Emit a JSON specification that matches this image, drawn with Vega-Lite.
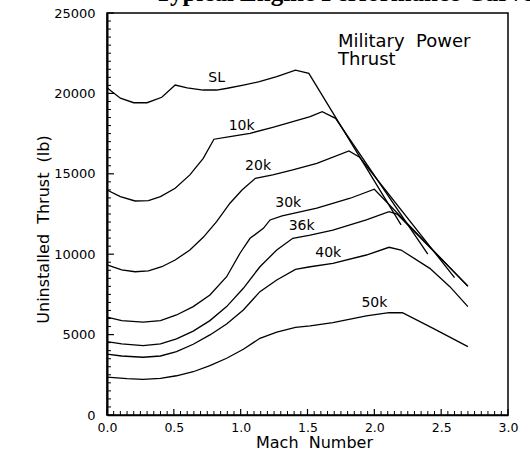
{
  "$schema": "https://vega.github.io/schema/vega-lite/v6.json",
  "width": 401,
  "height": 402,
  "autosize": "none",
  "padding": {"left": 107, "top": 13, "right": 22, "bottom": 50},
  "background": "white",
  "config": {
    "view": {"stroke": "black", "strokeWidth": 1.5},
    "font": "DejaVu Sans",
    "axis": {"grid": false, "domainColor": "black", "labelColor": "black", "titleColor": "black", "labelFont": "DejaVu Sans", "titleFont": "DejaVu Sans", "titleFontWeight": "normal"}
  },
  "datasets": {
    "curves": [
      {"alt": "SL", "mach": 0.0, "thrust": 20350}, {"alt": "SL", "mach": 0.1, "thrust": 19700}, {"alt": "SL", "mach": 0.2, "thrust": 19420}, {"alt": "SL", "mach": 0.3, "thrust": 19420}, {"alt": "SL", "mach": 0.41, "thrust": 19760}, {"alt": "SL", "mach": 0.51, "thrust": 20520}, {"alt": "SL", "mach": 0.6, "thrust": 20350}, {"alt": "SL", "mach": 0.72, "thrust": 20210}, {"alt": "SL", "mach": 0.82, "thrust": 20210}, {"alt": "SL", "mach": 0.9, "thrust": 20320}, {"alt": "SL", "mach": 1.02, "thrust": 20520}, {"alt": "SL", "mach": 1.14, "thrust": 20730}, {"alt": "SL", "mach": 1.27, "thrust": 21040}, {"alt": "SL", "mach": 1.41, "thrust": 21450}, {"alt": "SL", "mach": 1.51, "thrust": 21250}, {"alt": "SL", "mach": 2.2, "thrust": 11820},
      {"alt": "10k", "mach": 0.0, "thrust": 13990}, {"alt": "10k", "mach": 0.1, "thrust": 13580}, {"alt": "10k", "mach": 0.21, "thrust": 13310}, {"alt": "10k", "mach": 0.31, "thrust": 13330}, {"alt": "10k", "mach": 0.4, "thrust": 13580}, {"alt": "10k", "mach": 0.51, "thrust": 14100}, {"alt": "10k", "mach": 0.62, "thrust": 14930}, {"alt": "10k", "mach": 0.72, "thrust": 15960}, {"alt": "10k", "mach": 0.8, "thrust": 17150}, {"alt": "10k", "mach": 0.92, "thrust": 17310}, {"alt": "10k", "mach": 1.07, "thrust": 17520}, {"alt": "10k", "mach": 1.24, "thrust": 17890}, {"alt": "10k", "mach": 1.39, "thrust": 18240}, {"alt": "10k", "mach": 1.52, "thrust": 18550}, {"alt": "10k", "mach": 1.61, "thrust": 18860}, {"alt": "10k", "mach": 1.71, "thrust": 18450}, {"alt": "10k", "mach": 2.4, "thrust": 10010},
      {"alt": "20k", "mach": 0.0, "thrust": 9330}, {"alt": "20k", "mach": 0.11, "thrust": 9020}, {"alt": "20k", "mach": 0.21, "thrust": 8910}, {"alt": "20k", "mach": 0.31, "thrust": 8960}, {"alt": "20k", "mach": 0.41, "thrust": 9220}, {"alt": "20k", "mach": 0.51, "thrust": 9640}, {"alt": "20k", "mach": 0.62, "thrust": 10260}, {"alt": "20k", "mach": 0.72, "thrust": 11050}, {"alt": "20k", "mach": 0.82, "thrust": 12020}, {"alt": "20k", "mach": 0.92, "thrust": 13170}, {"alt": "20k", "mach": 1.01, "thrust": 13990}, {"alt": "20k", "mach": 1.11, "thrust": 14720}, {"alt": "20k", "mach": 1.24, "thrust": 14930}, {"alt": "20k", "mach": 1.39, "thrust": 15240}, {"alt": "20k", "mach": 1.57, "thrust": 15650}, {"alt": "20k", "mach": 1.81, "thrust": 16420}, {"alt": "20k", "mach": 1.89, "thrust": 16030}, {"alt": "20k", "mach": 2.6, "thrust": 8540},
      {"alt": "30k", "mach": 0.0, "thrust": 6080}, {"alt": "30k", "mach": 0.11, "thrust": 5870}, {"alt": "30k", "mach": 0.27, "thrust": 5770}, {"alt": "30k", "mach": 0.4, "thrust": 5870}, {"alt": "30k", "mach": 0.52, "thrust": 6220}, {"alt": "30k", "mach": 0.645, "thrust": 6740}, {"alt": "30k", "mach": 0.77, "thrust": 7460}, {"alt": "30k", "mach": 0.895, "thrust": 8600}, {"alt": "30k", "mach": 0.995, "thrust": 10060}, {"alt": "30k", "mach": 1.07, "thrust": 10990}, {"alt": "30k", "mach": 1.17, "thrust": 11610}, {"alt": "30k", "mach": 1.22, "thrust": 12130}, {"alt": "30k", "mach": 1.31, "thrust": 12380}, {"alt": "30k", "mach": 1.57, "thrust": 12860}, {"alt": "30k", "mach": 1.82, "thrust": 13480}, {"alt": "30k", "mach": 2.0, "thrust": 14040}, {"alt": "30k", "mach": 2.7, "thrust": 8000},
      {"alt": "36k", "mach": 0.0, "thrust": 4560}, {"alt": "36k", "mach": 0.11, "thrust": 4420}, {"alt": "36k", "mach": 0.27, "thrust": 4310}, {"alt": "36k", "mach": 0.4, "thrust": 4420}, {"alt": "36k", "mach": 0.52, "thrust": 4730}, {"alt": "36k", "mach": 0.645, "thrust": 5220}, {"alt": "36k", "mach": 0.77, "thrust": 5870}, {"alt": "36k", "mach": 0.895, "thrust": 6740}, {"alt": "36k", "mach": 1.02, "thrust": 7880}, {"alt": "36k", "mach": 1.144, "thrust": 9220}, {"alt": "36k", "mach": 1.27, "thrust": 10260}, {"alt": "36k", "mach": 1.39, "thrust": 10990}, {"alt": "36k", "mach": 1.52, "thrust": 11190}, {"alt": "36k", "mach": 1.69, "thrust": 11500}, {"alt": "36k", "mach": 1.94, "thrust": 12130}, {"alt": "36k", "mach": 2.11, "thrust": 12640}, {"alt": "36k", "mach": 2.17, "thrust": 12500}, {"alt": "36k", "mach": 2.7, "thrust": 8020},
      {"alt": "40k", "mach": 0.0, "thrust": 3790}, {"alt": "40k", "mach": 0.11, "thrust": 3670}, {"alt": "40k", "mach": 0.27, "thrust": 3590}, {"alt": "40k", "mach": 0.4, "thrust": 3670}, {"alt": "40k", "mach": 0.52, "thrust": 3940}, {"alt": "40k", "mach": 0.645, "thrust": 4400}, {"alt": "40k", "mach": 0.77, "thrust": 4980}, {"alt": "40k", "mach": 0.895, "thrust": 5660}, {"alt": "40k", "mach": 1.02, "thrust": 6530}, {"alt": "40k", "mach": 1.144, "thrust": 7670}, {"alt": "40k", "mach": 1.27, "thrust": 8400}, {"alt": "40k", "mach": 1.41, "thrust": 9060}, {"alt": "40k", "mach": 1.52, "thrust": 9220}, {"alt": "40k", "mach": 1.69, "thrust": 9430}, {"alt": "40k", "mach": 1.94, "thrust": 9950}, {"alt": "40k", "mach": 2.11, "thrust": 10430}, {"alt": "40k", "mach": 2.2, "thrust": 10260}, {"alt": "40k", "mach": 2.415, "thrust": 9120}, {"alt": "40k", "mach": 2.565, "thrust": 7980}, {"alt": "40k", "mach": 2.7, "thrust": 6740},
      {"alt": "50k", "mach": 0.0, "thrust": 2350}, {"alt": "50k", "mach": 0.15, "thrust": 2260}, {"alt": "50k", "mach": 0.27, "thrust": 2220}, {"alt": "50k", "mach": 0.4, "thrust": 2280}, {"alt": "50k", "mach": 0.52, "thrust": 2440}, {"alt": "50k", "mach": 0.645, "thrust": 2690}, {"alt": "50k", "mach": 0.77, "thrust": 3070}, {"alt": "50k", "mach": 0.895, "thrust": 3530}, {"alt": "50k", "mach": 1.02, "thrust": 4090}, {"alt": "50k", "mach": 1.144, "thrust": 4770}, {"alt": "50k", "mach": 1.27, "thrust": 5150}, {"alt": "50k", "mach": 1.41, "thrust": 5450}, {"alt": "50k", "mach": 1.52, "thrust": 5540}, {"alt": "50k", "mach": 1.69, "thrust": 5740}, {"alt": "50k", "mach": 1.94, "thrust": 6160}, {"alt": "50k", "mach": 2.11, "thrust": 6360}, {"alt": "50k", "mach": 2.21, "thrust": 6360}, {"alt": "50k", "mach": 2.44, "thrust": 5390}, {"alt": "50k", "mach": 2.7, "thrust": 4250}
    ],
    "labels": [
      {"label": "SL", "mach": 0.82, "thrust": 20940},
      {"label": "10k", "mach": 1.007, "thrust": 17973},
      {"label": "20k", "mach": 1.13, "thrust": 15485},
      {"label": "30k", "mach": 1.356, "thrust": 13203},
      {"label": "36k", "mach": 1.456, "thrust": 11754},
      {"label": "40k", "mach": 1.655, "thrust": 10056},
      {"label": "50k", "mach": 2.0, "thrust": 6946}
    ],
    "notes": [
      {"label": "Military\u00a0\u00a0Power", "mach": 1.728, "thrust": 22900},
      {"label": "Thrust", "mach": 1.728, "thrust": 21770}
    ],
    "title": [
      {"label": "Typical Engine Performance Curves", "mach": 0.36, "thrust": 25720}
    ],
    "xmajor": [{"mach": 0}, {"mach": 0.5}, {"mach": 1}, {"mach": 1.5}, {"mach": 2}, {"mach": 2.5}, {"mach": 3}],
    "xminor": [{"mach":0.05},{"mach":0.1},{"mach":0.15},{"mach":0.2},{"mach":0.25},{"mach":0.3},{"mach":0.35},{"mach":0.4},{"mach":0.45},{"mach":0.55},{"mach":0.6},{"mach":0.65},{"mach":0.7},{"mach":0.75},{"mach":0.8},{"mach":0.85},{"mach":0.9},{"mach":0.95},{"mach":1.05},{"mach":1.1},{"mach":1.15},{"mach":1.2},{"mach":1.25},{"mach":1.3},{"mach":1.35},{"mach":1.4},{"mach":1.45},{"mach":1.55},{"mach":1.6},{"mach":1.65},{"mach":1.7},{"mach":1.75},{"mach":1.8},{"mach":1.85},{"mach":1.9},{"mach":1.95},{"mach":2.05},{"mach":2.1},{"mach":2.15},{"mach":2.2},{"mach":2.25},{"mach":2.3},{"mach":2.35},{"mach":2.4},{"mach":2.45},{"mach":2.55},{"mach":2.6},{"mach":2.65},{"mach":2.7},{"mach":2.75},{"mach":2.8},{"mach":2.85},{"mach":2.9},{"mach":2.95}],
    "ymajor": [{"thrust": 0}, {"thrust": 5000}, {"thrust": 10000}, {"thrust": 15000}, {"thrust": 20000}, {"thrust": 25000}],
    "yminor": [{"thrust":500},{"thrust":1000},{"thrust":1500},{"thrust":2000},{"thrust":2500},{"thrust":3000},{"thrust":3500},{"thrust":4000},{"thrust":4500},{"thrust":5500},{"thrust":6000},{"thrust":6500},{"thrust":7000},{"thrust":7500},{"thrust":8000},{"thrust":8500},{"thrust":9000},{"thrust":9500},{"thrust":10500},{"thrust":11000},{"thrust":11500},{"thrust":12000},{"thrust":12500},{"thrust":13000},{"thrust":13500},{"thrust":14000},{"thrust":14500},{"thrust":15500},{"thrust":16000},{"thrust":16500},{"thrust":17000},{"thrust":17500},{"thrust":18000},{"thrust":18500},{"thrust":19000},{"thrust":19500},{"thrust":20500},{"thrust":21000},{"thrust":21500},{"thrust":22000},{"thrust":22500},{"thrust":23000},{"thrust":23500},{"thrust":24000},{"thrust":24500}]
  },
  "layer": [
    {
      "data": {"name": "curves"},
      "mark": {"type": "line", "color": "black", "strokeWidth": 1.3, "interpolate": "linear"},
      "encoding": {
        "x": {
          "field": "mach", "type": "quantitative",
          "scale": {"domain": [0, 3], "nice": false, "zero": false},
          "axis": {
            "orient": "bottom",
            "title": "Mach\u00a0\u00a0Number",
            "values": [0, 0.5, 1, 1.5, 2, 2.5, 3],
            "format": ".1f",
            "ticks": false,
            "domainWidth": 1.5,
            "labelFontSize": 12.5,
            "labelPadding": 6, "labelOverlap": false, "labelFlush": false,
            "titleFontSize": 16,
            "titleX": 207, "titleY": 27, "titleBaseline": "middle", "titleAlign": "center"
          }
        },
        "y": {
          "field": "thrust", "type": "quantitative",
          "scale": {"domain": [0, 25000], "nice": false},
          "axis": {
            "orient": "left",
            "title": "Uninstalled\u00a0\u00a0Thrust\u00a0\u00a0(lb)",
            "values": [0, 5000, 10000, 15000, 20000, 25000],
            "format": "d",
            "ticks": false,
            "domainWidth": 2,
            "labelFontSize": 13,
            "labelPadding": 12, "labelOverlap": false, "labelFlush": false,
            "titleFontSize": 16,
            "titleX": -64, "titleY": 216, "titleAngle": 270, "titleBaseline": "middle", "titleAlign": "center"
          }
        },
        "detail": {"field": "alt"}
      }
    },
    {
      "data": {"name": "xmajor"},
      "mark": {"type": "rule", "color": "black", "strokeWidth": 1.2},
      "encoding": {
        "x": {"field": "mach", "type": "quantitative"},
        "y": {"datum": 0},
        "y2": {"datum": 375}
      }
    },
    {
      "data": {"name": "xminor"},
      "mark": {"type": "rule", "color": "black", "strokeWidth": 1},
      "encoding": {
        "x": {"field": "mach", "type": "quantitative"},
        "y": {"datum": 0},
        "y2": {"datum": 250}
      }
    },
    {
      "data": {"name": "ymajor"},
      "mark": {"type": "rule", "color": "black", "strokeWidth": 1.2},
      "encoding": {
        "y": {"field": "thrust", "type": "quantitative"},
        "x": {"datum": 0},
        "x2": {"datum": 0.052}
      }
    },
    {
      "data": {"name": "yminor"},
      "mark": {"type": "rule", "color": "black", "strokeWidth": 1},
      "encoding": {
        "y": {"field": "thrust", "type": "quantitative"},
        "x": {"datum": 0},
        "x2": {"datum": 0.03}
      }
    },
    {
      "data": {"name": "labels"},
      "mark": {"type": "text", "font": "DejaVu Sans", "fontSize": 14, "color": "black", "align": "center", "baseline": "middle"},
      "encoding": {
        "x": {"field": "mach", "type": "quantitative"},
        "y": {"field": "thrust", "type": "quantitative"},
        "text": {"field": "label"}
      }
    },
    {
      "data": {"name": "notes"},
      "mark": {"type": "text", "font": "DejaVu Sans", "fontSize": 18, "color": "black", "align": "left", "baseline": "alphabetic"},
      "encoding": {
        "x": {"field": "mach", "type": "quantitative"},
        "y": {"field": "thrust", "type": "quantitative"},
        "text": {"field": "label"}
      }
    },
    {
      "data": {"name": "title"},
      "mark": {"type": "text", "font": "Liberation Serif", "fontSize": 25, "fontWeight": "bold", "color": "black", "align": "left", "baseline": "alphabetic"},
      "encoding": {
        "x": {"field": "mach", "type": "quantitative"},
        "y": {"field": "thrust", "type": "quantitative"},
        "text": {"field": "label"}
      }
    }
  ]
}
